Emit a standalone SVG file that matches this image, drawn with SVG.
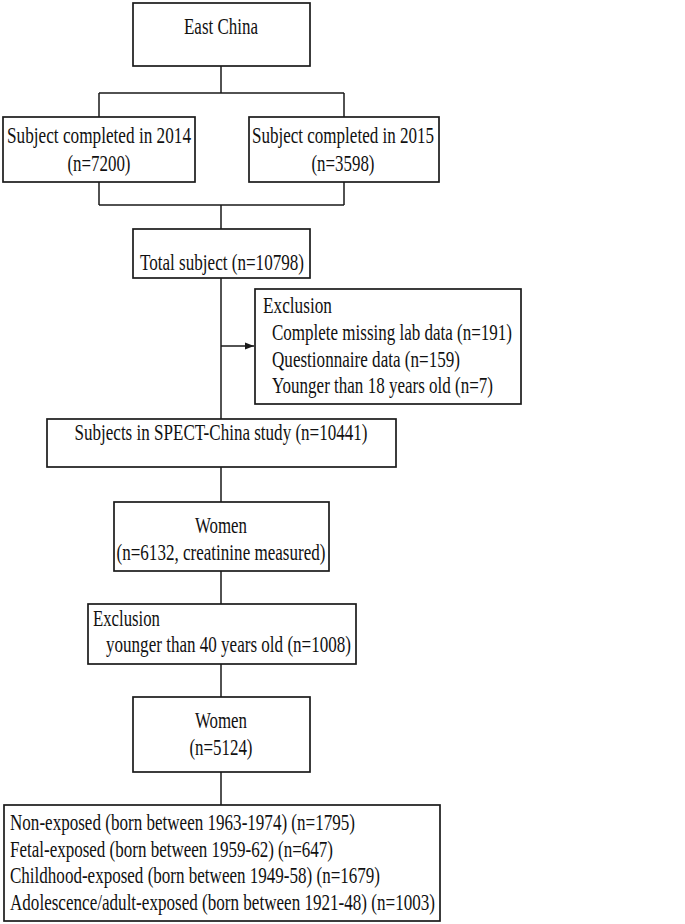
<svg xmlns="http://www.w3.org/2000/svg" width="685" height="924" viewBox="0 0 685 924">
<style>
.box{fill:#fff;stroke:#1a1a1a;stroke-width:1.7}
.ln{fill:none;stroke:#1a1a1a;stroke-width:1.5}
text{font-family:"Liberation Serif","Times New Roman",serif;font-size:22.5px;fill:#111}
.c{text-anchor:middle}
</style>
<defs>
<marker id="ah" markerWidth="10" markerHeight="8" refX="9" refY="4" orient="auto" markerUnits="userSpaceOnUse">
<path d="M0,0.5 L9,4 L0,7.5 Z" fill="#1a1a1a"/>
</marker>
</defs>
<rect width="685" height="924" fill="#fff"/>
<g id="connectors">
<path class="ln" d="M221,66 V93 M99,93 H344 M99,93 V117 M344,93 V117"/>
<path class="ln" d="M99,182 V205 M344,182 V205 M99,205 H344 M221,205 V229"/>
<path class="ln" d="M221,278 V419"/>
<path class="ln" d="M221,346 H254" marker-end="url(#ah)"/>
<path class="ln" d="M221,467 V502 M221,571 V604 M221,664 V697 M221,772 V805"/>
</g>
<g id="east-china">
<rect class="box" x="133" y="3" width="177" height="63"/>
<text x="221" y="34" class="c" textLength="74" lengthAdjust="spacingAndGlyphs">East China</text>
</g>
<g id="subj-2014">
<rect class="box" x="3" y="117" width="192" height="65"/>
<text x="99" y="143" class="c" textLength="184" lengthAdjust="spacingAndGlyphs">Subject completed in 2014</text>
<text x="99" y="171" class="c" textLength="63" lengthAdjust="spacingAndGlyphs">(n=7200)</text>
</g>
<g id="subj-2015">
<rect class="box" x="249" y="117" width="190" height="65"/>
<text x="343" y="143" class="c" textLength="182" lengthAdjust="spacingAndGlyphs">Subject completed in 2015</text>
<text x="343" y="171" class="c" textLength="63" lengthAdjust="spacingAndGlyphs">(n=3598)</text>
</g>
<g id="total">
<rect class="box" x="133" y="229" width="177" height="49"/>
<text x="222" y="270" class="c" textLength="164" lengthAdjust="spacingAndGlyphs">Total subject (n=10798)</text>
</g>
<g id="exclusion1">
<rect class="box" x="255" y="289" width="266" height="115"/>
<text x="263" y="313" textLength="69" lengthAdjust="spacingAndGlyphs">Exclusion</text>
<text x="272" y="340" textLength="240" lengthAdjust="spacingAndGlyphs">Complete missing lab data (n=191)</text>
<text x="272" y="367" textLength="188" lengthAdjust="spacingAndGlyphs">Questionnaire data (n=159)</text>
<text x="272" y="393" textLength="221" lengthAdjust="spacingAndGlyphs">Younger than 18 years old (n=7)</text>
</g>
<g id="spect">
<rect class="box" x="47" y="419" width="349" height="48"/>
<text x="221" y="440" class="c" textLength="293" lengthAdjust="spacingAndGlyphs">Subjects in SPECT-China study (n=10441)</text>
</g>
<g id="women1">
<rect class="box" x="114" y="502" width="215" height="69"/>
<text x="221" y="533" class="c" textLength="52" lengthAdjust="spacingAndGlyphs">Women</text>
<text x="221" y="560" class="c" textLength="209" lengthAdjust="spacingAndGlyphs">(n=6132, creatinine measured)</text>
</g>
<g id="exclusion2">
<rect class="box" x="88" y="604" width="268" height="60"/>
<text x="93" y="626" textLength="67" lengthAdjust="spacingAndGlyphs">Exclusion</text>
<text x="106" y="652" textLength="245" lengthAdjust="spacingAndGlyphs">younger than 40 years old (n=1008)</text>
</g>
<g id="women2">
<rect class="box" x="133" y="697" width="177" height="75"/>
<text x="221" y="728" class="c" textLength="52" lengthAdjust="spacingAndGlyphs">Women</text>
<text x="221" y="755" class="c" textLength="63" lengthAdjust="spacingAndGlyphs">(n=5124)</text>
</g>
<g id="groups">
<rect class="box" x="4" y="805" width="436" height="116"/>
<text x="10" y="830" textLength="345" lengthAdjust="spacingAndGlyphs">Non-exposed (born between 1963-1974) (n=1795)</text>
<text x="10" y="857" textLength="323" lengthAdjust="spacingAndGlyphs">Fetal-exposed (born between 1959-62) (n=647)</text>
<text x="10" y="883" textLength="370" lengthAdjust="spacingAndGlyphs">Childhood-exposed (born between 1949-58) (n=1679)</text>
<text x="10" y="910" textLength="425" lengthAdjust="spacingAndGlyphs">Adolescence/adult-exposed (born between 1921-48) (n=1003)</text>
</g>
</svg>
